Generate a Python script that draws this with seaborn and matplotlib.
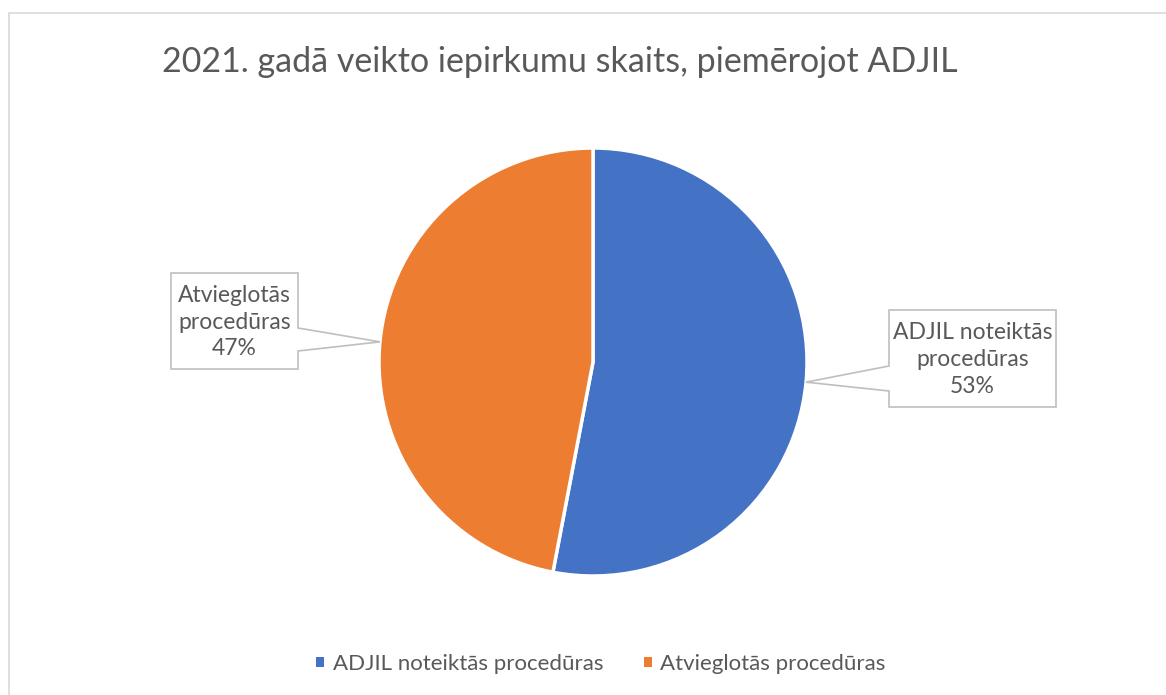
import matplotlib
matplotlib.use("Agg")
import matplotlib.pyplot as plt
from matplotlib.patches import Polygon
from matplotlib.lines import Line2D
import numpy as np
import seaborn as sns

# dati
categories = ["ADJIL noteiktās procedūras", "Atvieglotās procedūras"]
box_labels = ["ADJIL noteiktās\nprocedūras", "Atvieglotās\nprocedūras"]
shares = [53, 47]
colors = ["#4472C4", "#ED7D31"]
title = "2021. gadā veikto iepirkumu skaits, piemērojot ADJIL"

sns.set_theme(style="white")
plt.rcParams['font.family'] = ['Lato', 'DejaVu Sans']
text_color = "#595959"

W, H = 1166, 695
fig = plt.figure(figsize=(W / 100, H / 100), dpi=100)


def px(x, y):
    # pikseļi -> figūras daļas
    return x / W, 1 - y / H


# apmale (tikai kreisā un augšējā mala redzama)
fig.add_artist(Line2D([9 / W, 9 / W], [0, 1 - 12.5 / H], color="#d9d9d9", lw=1.2))
fig.add_artist(Line2D([9 / W, 1], [1 - 12.5 / H, 1 - 12.5 / H], color="#d9d9d9", lw=1.2))

fig.text(*px(560, 62), title, ha="center", va="center", fontsize=24.5, color=text_color)

# pīrāgs
cx, cy, r = 593, 362, 214
ax = fig.add_axes([(cx - r) / W, (H - cy - r) / H, 2 * r / W, 2 * r / H])
wedges, _ = ax.pie(shares, colors=colors, startangle=90, counterclock=False,
                   radius=1, wedgeprops=dict(edgecolor="white", linewidth=2.5))
ax.set_xlim(-1, 1)
ax.set_ylim(-1, 1)
ax.axis("off")

# iezīmes ar norādes trīsstūri
boxes = [
    dict(x0=889, x1=1056, y0=310, y1=407, side="left", p0=366, p1=391),
    dict(x0=171, x1=298, y0=273, y1=369, side="right", p0=328, p1=351),
]
for w, lab, share, b in zip(wedges, box_labels, shares, boxes):
    ang = np.deg2rad((w.theta1 + w.theta2) / 2)
    tip_disp = ax.transData.transform((np.cos(ang), np.sin(ang)))
    tx, ty = tip_disp[0], H - tip_disp[1]
    if b["side"] == "left":
        pts = [(b["x0"], b["y0"]), (b["x1"], b["y0"]), (b["x1"], b["y1"]),
               (b["x0"], b["y1"]), (b["x0"], b["p1"]), (tx, ty), (b["x0"], b["p0"])]
    else:
        pts = [(b["x0"], b["y0"]), (b["x1"], b["y0"]), (b["x1"], b["p0"]), (tx, ty),
               (b["x1"], b["p1"]), (b["x1"], b["y1"]), (b["x0"], b["y1"])]
    poly = Polygon([px(*p) for p in pts], closed=True, facecolor="white",
                   edgecolor="#bfbfbf", lw=1.2, transform=fig.transFigure)
    fig.add_artist(poly)
    fig.text(*px((b["x0"] + b["x1"]) / 2, (b["y0"] + b["y1"]) / 2 + 1),
             f"{lab}\n{share}%", ha="center", va="center", fontsize=16.5,
             color=text_color, linespacing=1.35)

leg = fig.legend(wedges, categories, loc="center", bbox_to_anchor=px(601, 664),
                 ncol=2, frameon=False, fontsize=16, handlelength=0.36,
                 handleheight=0.36, handletextpad=0.4, columnspacing=1.8,
                 labelcolor=text_color)
for h in leg.legend_handles:
    h.set_edgecolor("none")

fig.savefig("out.png", dpi=100, facecolor="white")
